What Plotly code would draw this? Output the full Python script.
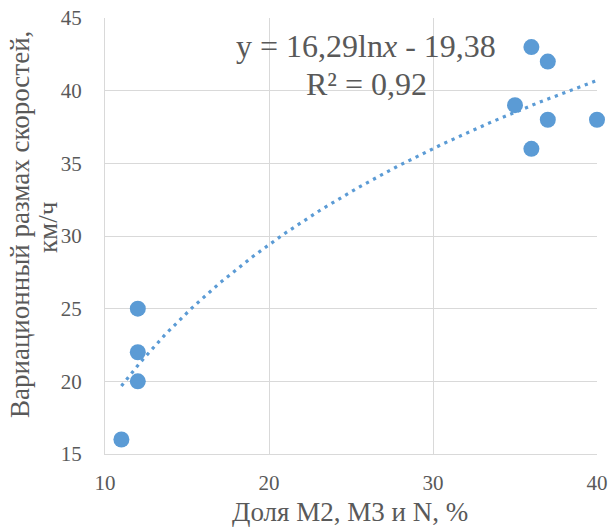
import numpy as np
import plotly.graph_objects as go

share_pct = [11, 12, 12, 12, 35, 36, 36, 37, 37, 40]
speed_range = [16, 20, 22, 25, 39, 43, 36, 42, 38, 38]
x_ticks = [10, 20, 30, 40]
y_ticks = [15, 20, 25, 30, 35, 40, 45]
eq_line1 = "y = 16,29ln<i>x</i> - 19,38"
eq_line2 = "R² = 0,92"
x_title = "Доля М2, М3 и N, %"
y_title_1 = "Вариационный размах скоростей,"
y_title_2 = "км/ч"

# logarithmic trendline fitted from the data
a, b = np.polyfit(np.log(share_pct), speed_range, 1)
tx = np.linspace(min(share_pct), max(share_pct), 200)
ty = a * np.log(tx) + b

blue = "#5b9bd5"
grey = "#595959"
font = "'Liberation Serif', 'Times New Roman', Tinos, serif"

L, R, T, B = 105, 16, 18, 74
W, H = 613, 528
pw, ph = W - L - R, H - T - B


def px(xp):
    return (xp - L) / pw


def py(yp):
    return (H - B - yp) / ph


fig = go.Figure()
fig.add_trace(go.Scatter(x=tx, y=ty, mode="lines",
                         line=dict(color=blue, width=3.2, dash="3.2px,4.8px"),
                         hoverinfo="skip", showlegend=False))
fig.add_trace(go.Scatter(x=share_pct, y=speed_range, mode="markers",
                         marker=dict(color=blue, size=16),
                         cliponaxis=False, showlegend=False))

ann_font = dict(family=font, size=32, color=grey)
fig.add_annotation(x=px(366), y=py(46), xref="paper", yref="paper",
                   text=eq_line1, showarrow=False, font=ann_font,
                   xanchor="center", yanchor="middle")
fig.add_annotation(x=px(366), y=py(84), xref="paper", yref="paper",
                   text=eq_line2, showarrow=False, font=ann_font,
                   xanchor="center", yanchor="middle")

title_font = dict(family=font, size=27, color=grey)
fig.add_annotation(x=px(350), y=py(512), xref="paper", yref="paper",
                   text=x_title, showarrow=False, font=title_font,
                   xanchor="center", yanchor="middle")
fig.add_annotation(x=px(20), y=py(225), xref="paper", yref="paper",
                   text=y_title_1, showarrow=False, font=title_font,
                   textangle=-90, xanchor="center", yanchor="middle")
fig.add_annotation(x=px(48), y=py(228), xref="paper", yref="paper",
                   text=y_title_2, showarrow=False, font=title_font,
                   textangle=-90, xanchor="center", yanchor="middle")

fig.update_layout(
    width=W, height=H,
    margin=dict(l=L, r=R, t=T, b=B, autoexpand=False),
    paper_bgcolor="white", plot_bgcolor="white",
    font=dict(family=font, color=grey, size=21),
    xaxis=dict(range=[10, 40], tickvals=x_ticks, showgrid=True,
               gridcolor="#d9d9d9", gridwidth=1.3, zeroline=False,
               showline=True, linecolor="#d9d9d9", linewidth=1.3,
               automargin=False, ticks="", ticklabelstandoff=10,
               tickfont=dict(family=font, size=21, color=grey)),
    yaxis=dict(range=[15, 45], tickvals=y_ticks, showgrid=True,
               gridcolor="#d9d9d9", gridwidth=1.3, zeroline=False,
               showline=True, linecolor="#d9d9d9", linewidth=1.3,
               automargin=False, ticks="", ticklabelstandoff=18,
               tickfont=dict(family=font, size=21, color=grey)),
)

fig.write_html("out.html")
